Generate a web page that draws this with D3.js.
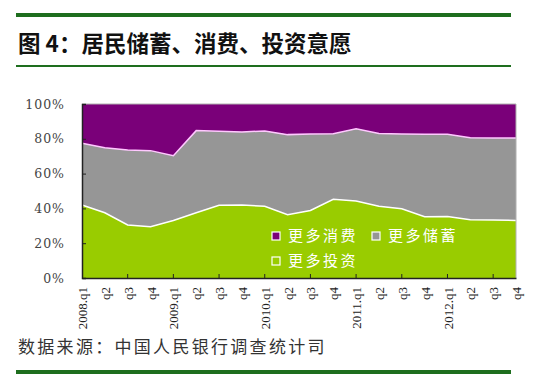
<!DOCTYPE html>
<html>
<head>
<meta charset="utf-8">
<script src="https://cdn.jsdelivr.net/npm/d3@7"></script>
<style>
  body { margin: 0; background: #fff; }
  svg { display: block; }
</style>
</head>
<body>
<div id="chart"></div>
<script>
// quarters 2008.q1 .. 2012.q4
const quarters = [
  "2008.q1", "q2", "q3", "q4",
  "2009.q1", "q2", "q3", "q4",
  "2010.q1", "q2", "q3", "q4",
  "2011.q1", "q2", "q3", "q4",
  "2012.q1", "q2", "q3", "q4"
];
// share of residents (%)
const moreInvest = [42.0, 37.5, 30.5, 29.5, 33.0, 37.5, 41.8, 42.0, 41.2, 36.4, 38.8, 45.2, 44.3, 41.2, 39.8, 35.2, 35.4, 33.5, 33.3, 33.1];
const moreSaving = [35.4, 37.4, 43.1, 43.7, 37.3, 47.2, 42.5, 41.9, 43.3, 46.0, 44.0, 37.7, 41.5, 41.9, 43.0, 47.4, 47.2, 47.1, 47.2, 47.4];
const moreConsume = [22.6, 25.1, 26.4, 26.8, 29.7, 15.3, 15.7, 16.1, 15.5, 17.6, 17.2, 17.1, 14.2, 16.9, 17.2, 17.4, 17.4, 19.4, 19.5, 19.5];
const yTicks = [0, 20, 40, 60, 80, 100];

const seriesNames = { invest: "更多投资", saving: "更多储蓄", consume: "更多消费" };
const colors = { invest: "#99cc00", saving: "#969696", consume: "#7a0079" };
const edgeColors = { invest: "#ffffff", saving: "#ffc8ff", consume: "#7a0079" };

const W = 550, H = 374;
const margin = { left: 82, right: 34, top: 104, bottom: 96 };

const svg = d3.select("#chart").append("svg")
  .attr("width", W).attr("height", H);

// header rules + title
const green = "#1e6e1e";
svg.append("rect").attr("x", 16).attr("y", 13).attr("width", 495).attr("height", 4).attr("fill", green);
svg.append("rect").attr("x", 16).attr("y", 65).attr("width", 495).attr("height", 2).attr("fill", green);
svg.append("text")
  .attr("x", 18).attr("y", 52)
  .attr("font-family", "'Noto Sans CJK SC', sans-serif")
  .attr("font-weight", "bold")
  .attr("font-size", 22.5)
  .attr("fill", "#111")
  .text("图 4：居民储蓄、消费、投资意愿");

// data table
const data = quarters.map((q, i) => ({
  q, invest: moreInvest[i], saving: moreSaving[i], consume: moreConsume[i]
}));
const keys = ["invest", "saving", "consume"];
const stacked = d3.stack().keys(keys)(data);

const x = d3.scalePoint().domain(d3.range(quarters.length))
  .range([margin.left, W - margin.right]);
const y = d3.scaleLinear().domain([0, 100])
  .range([H - margin.bottom, margin.top]);

const area = d3.area()
  .x((d, i) => x(i))
  .y0(d => y(d[0]))
  .y1(d => y(d[1]));

svg.append("g").selectAll("path")
  .data(stacked)
  .join("path")
  .attr("d", area)
  .attr("fill", d => colors[d.key]);

// series edges
const edge = d3.line().x((d, i) => x(i)).y(d => y(d[1]));
svg.append("g").selectAll("path")
  .data(stacked.filter(s => s.key !== "consume"))
  .join("path")
  .attr("d", edge)
  .attr("fill", "none")
  .attr("stroke", d => edgeColors[d.key])
  .attr("stroke-width", 1.5);

// plot frame (top/right light)
svg.append("path")
  .attr("d", `M${margin.left},${margin.top}H${W - margin.right}V${H - margin.bottom}`)
  .attr("fill", "none").attr("stroke", "#b0b0b0").attr("stroke-width", 1);

// y axis
const yAxis = d3.axisLeft(y).tickValues(yTicks).tickSize(-4).tickPadding(17)
  .tickFormat(d => d + "%");
const gy = svg.append("g").attr("transform", `translate(${margin.left},0)`).call(yAxis);
gy.select(".domain").attr("stroke", "#222").attr("stroke-width", 1.5);
gy.selectAll(".tick line").attr("stroke", "#222");
gy.selectAll("text")
  .attr("font-family", "'DejaVu Serif', serif")
  .attr("font-size", 12.5)
  .attr("letter-spacing", 1)
  .attr("fill", "#444");

// x axis
const xAxis = d3.axisBottom(x).tickSize(0).tickPadding(0)
  .tickFormat(i => quarters[i]);
const gx = svg.append("g").attr("transform", `translate(0,${H - margin.bottom})`).call(xAxis);
gx.select(".domain").attr("stroke", "#222").attr("stroke-width", 1.5);
gx.selectAll("text")
  .attr("transform", "rotate(-90)")
  .attr("text-anchor", "end")
  .attr("x", -9)
  .attr("y", 0)
  .attr("dy", "0.35em")
  .attr("font-family", "'Liberation Serif', serif")
  .attr("font-size", 13)
  .attr("fill", "#222");
// inner tick marks every two quarters
svg.append("g").selectAll("line")
  .data(d3.range(2, quarters.length, 2))
  .join("line")
  .attr("x1", i => x(i)).attr("x2", i => x(i))
  .attr("y1", H - margin.bottom).attr("y2", H - margin.bottom - 4)
  .attr("stroke", "#222");

// legend
const legendItems = [
  { key: "consume", x: 272, y: 236 },
  { key: "saving", x: 372, y: 236 },
  { key: "invest", x: 272, y: 261 }
];
const lg = svg.append("g").selectAll("g")
  .data(legendItems)
  .join("g")
  .attr("transform", d => `translate(${d.x},${d.y})`);
lg.append("rect")
  .attr("x", 0).attr("y", -4).attr("width", 8).attr("height", 8)
  .attr("fill", d => colors[d.key])
  .attr("stroke", "#fff").attr("stroke-width", 1.2);
lg.append("text")
  .attr("x", 16).attr("y", 0).attr("dy", "0.36em")
  .attr("font-family", "'Noto Sans CJK SC', sans-serif")
  .attr("font-size", 15)
  .attr("letter-spacing", 2.5)
  .attr("fill", "#fff")
  .text(d => seriesNames[d.key]);

// source + bottom rule
svg.append("text")
  .attr("x", 18).attr("y", 353)
  .attr("font-family", "'Noto Sans CJK SC', sans-serif")
  .attr("font-size", 17)
  .attr("letter-spacing", 2.3)
  .attr("fill", "#333")
  .text("数据来源：中国人民银行调查统计司");
svg.append("rect").attr("x", 16).attr("y", 370).attr("width", 495).attr("height", 4).attr("fill", green);
</script>
</body>
</html>
